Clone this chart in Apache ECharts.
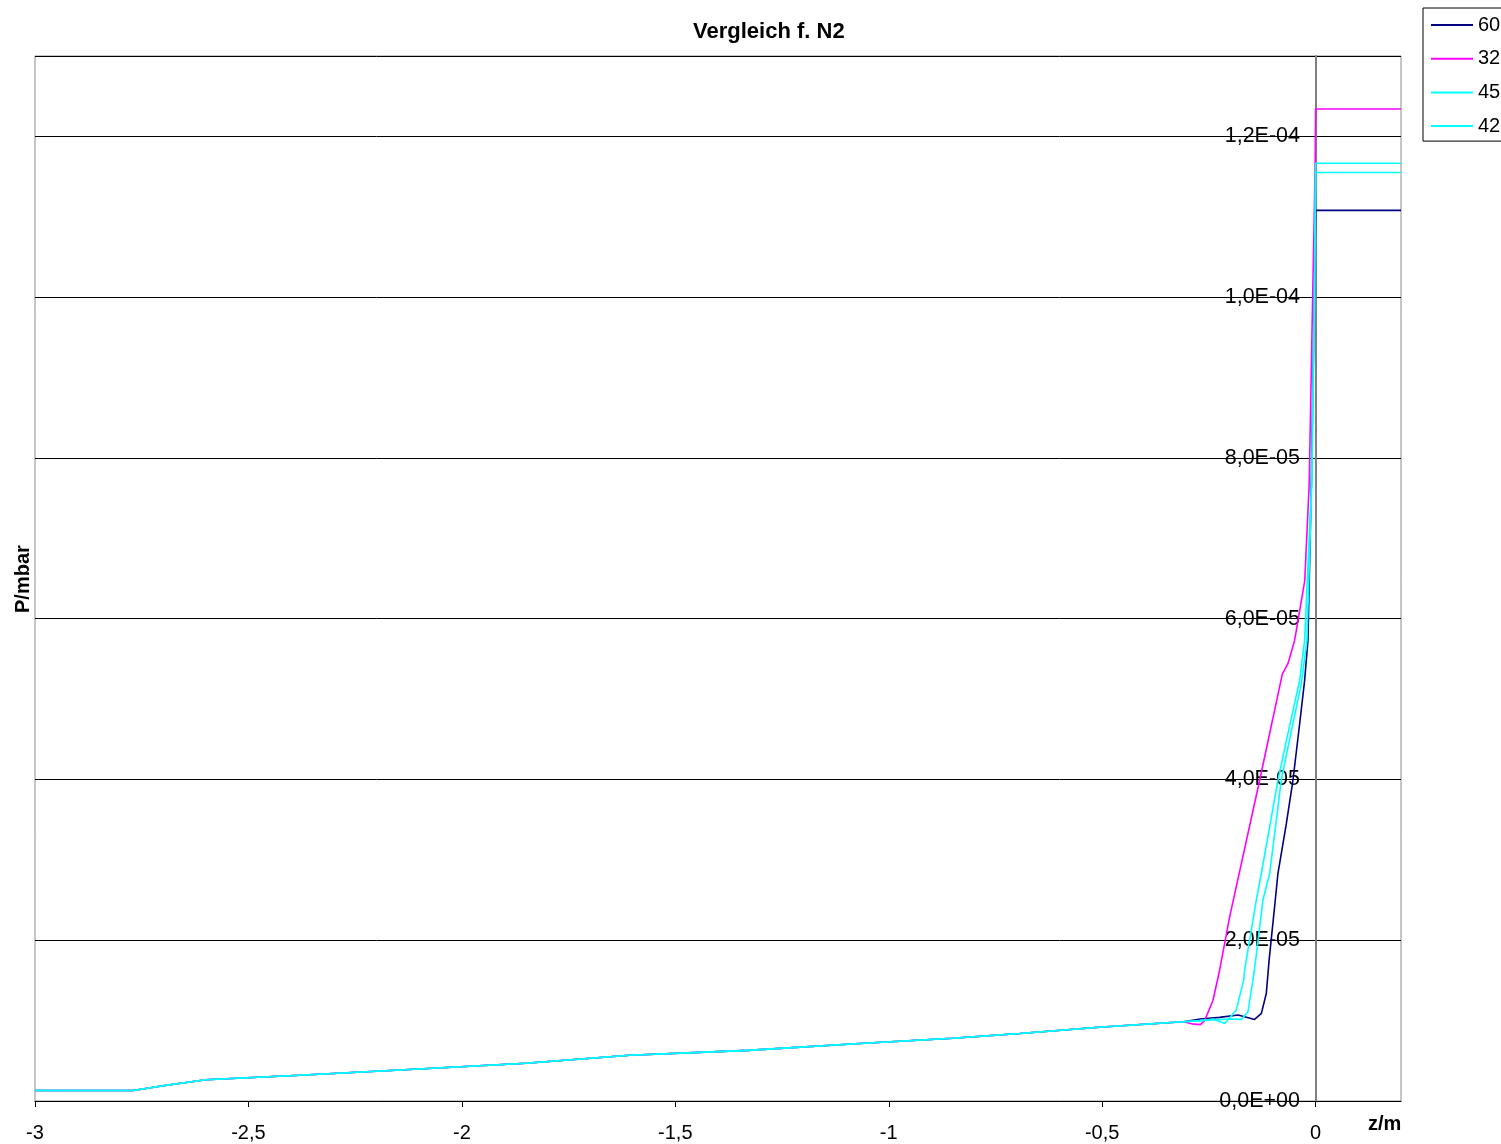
<!DOCTYPE html>
<html>
<head>
<meta charset="utf-8">
<title>Vergleich f. N2</title>
<script src="https://cdn.jsdelivr.net/npm/echarts@6/dist/echarts.min.js"></script>
<style>
  html, body { margin: 0; padding: 0; background: #fff; }
  #main { width: 1501px; height: 1144px; }
</style>
</head>
<body>
<div id="main"></div>
<script>
// shared low-pressure part (z in m, P in mbar)
var baseLine = [
  [-3.0, 1.3e-6], [-2.77, 1.3e-6], [-2.70, 1.9e-6], [-2.6, 2.65e-6],
  [-2.38, 3.2e-6], [-2.145, 3.85e-6], [-1.85, 4.7e-6], [-1.607, 5.7e-6],
  [-1.33, 6.3e-6], [-1.068, 7.15e-6], [-0.85, 7.8e-6], [-0.693, 8.4e-6],
  [-0.5, 9.2e-6], [-0.31, 9.85e-6]
];

var tail60 = [
  [-0.27, 1.02e-5], [-0.225, 1.04e-5], [-0.182, 1.07e-5], [-0.16, 1.04e-5],
  [-0.143, 1.015e-5], [-0.127, 1.09e-5], [-0.1155, 1.34e-5], [-0.109, 1.75e-5],
  [-0.0945, 2.5e-5], [-0.0883, 2.83e-5], [-0.0686, 3.45e-5], [-0.0531, 3.99e-5],
  [-0.0375, 4.69e-5], [-0.0258, 5.23e-5], [-0.018, 5.73e-5], [-0.01, 7.68e-5],
  [-0.003, 1.0e-4], [0, 1.108e-4], [0.2, 1.108e-4]
];

var tail32 = [
  [-0.29, 9.6e-6], [-0.27, 9.5e-6], [-0.26, 1.0e-5], [-0.2405, 1.25e-5],
  [-0.2248, 1.63e-5], [-0.2014, 2.29e-5], [-0.1311, 3.99e-5], [-0.078, 5.31e-5],
  [-0.0649, 5.44e-5], [-0.0492, 5.73e-5], [-0.0255, 6.47e-5], [-0.015, 7.68e-5],
  [-0.007, 1.0e-4], [-0.0028, 1.114e-4], [-0.001, 1.17e-4], [0, 1.234e-4],
  [0.2, 1.234e-4]
];

var tail45 = [
  [-0.27, 1.0e-5], [-0.24, 1.02e-5], [-0.213, 9.65e-6], [-0.186, 1.13e-5],
  [-0.1686, 1.5e-5], [-0.1663, 1.63e-5], [-0.139, 2.5e-5], [-0.1272, 2.83e-5],
  [-0.0883, 3.99e-5], [-0.0686, 4.48e-5], [-0.0375, 5.23e-5], [-0.0258, 5.73e-5],
  [-0.0094, 7.68e-5], [-0.0028, 1.0e-4], [0, 1.1665e-4], [0.2, 1.1665e-4]
];

var tail42 = [
  [-0.27, 1.0e-5], [-0.2, 1.02e-5], [-0.174, 1.015e-5], [-0.1586, 1.11e-5],
  [-0.1468, 1.5e-5], [-0.1405, 1.75e-5], [-0.1234, 2.5e-5], [-0.1077, 2.83e-5],
  [-0.0804, 3.99e-5], [-0.0649, 4.4e-5], [-0.0335, 5.19e-5], [-0.0203, 5.73e-5],
  [-0.009, 7.68e-5], [-0.0025, 1.0e-4], [0, 1.155e-4], [0.2, 1.155e-4]
];

var seriesNames = ['60', '32', '45', '42'];
var seriesColors = ['#000080', '#ff00ff', '#00ffff', '#00ffff'];
var seriesTails = [tail60, tail32, tail45, tail42];

var font = 'Liberation Sans, Arial, sans-serif';

function fmtY(v) {
  // 1.2e-4 -> "1,2E-04"
  var s = Number(v).toExponential(1).split('e');
  var exp = parseInt(s[1], 10);
  var sign = exp < 0 ? '-' : '+';
  var e = Math.abs(exp);
  return s[0].replace('.', ',') + 'E' + sign + (e < 10 ? '0' + e : e);
}

var chart = echarts.init(document.getElementById('main'));

var series = seriesNames.map(function (name, i) {
  return {
    name: name,
    type: 'line',
    data: baseLine.concat(seriesTails[i]),
    showSymbol: false,
    symbol: 'none',
    lineStyle: { color: seriesColors[i], width: 1.6 },
    itemStyle: { color: seriesColors[i] }
  };
});

chart.setOption({
  animation: false,
  backgroundColor: '#fff',
  title: {
    text: 'Vergleich f. N2',
    left: 688,
    top: 16,
    textStyle: { fontFamily: font, fontSize: 22, fontWeight: 'bold', color: '#000' }
  },
  legend: {
    orient: 'vertical',
    left: 1423,
    top: 8,
    padding: [6, 8, 4, 8],
    borderColor: '#000',
    borderWidth: 1,
    icon: 'rect',
    itemWidth: 42,
    itemHeight: 2,
    itemGap: 11.7,
    textStyle: { fontFamily: font, fontSize: 20, color: '#000', lineHeight: 22 },
    data: seriesNames
  },
  grid: {
    left: 35,
    right: 100,
    top: 56,
    bottom: 43,
    show: true,
    borderColor: '#8c8c8c',
    borderWidth: 1,
    outerBoundsMode: 'none'
  },
  xAxis: {
    type: 'value',
    min: -3,
    max: 0.2,
    interval: 0.5,
    axisLine: { onZero: false, lineStyle: { color: '#000', width: 1 } },
    axisTick: { show: true, length: 6, lineStyle: { color: '#000' } },
    splitLine: { show: false },
    axisLabel: {
      margin: 22,
      showMaxLabel: false,
      fontFamily: font,
      fontSize: 20,
      color: '#000',
      formatter: function (v) {
        if (Math.abs(v * 2 - Math.round(v * 2)) > 1e-9) return '';
        return String(v).replace('.', ',');
      }
    }
  },
  yAxis: {
    type: 'value',
    position: 'left',
    // move the axis from the grid's left edge to z = 0
    offset: -1281,
    min: 0,
    max: 1.3e-4,
    interval: 2e-5,
    axisLine: { onZero: false, lineStyle: { color: '#808080', width: 2 } },
    axisTick: { show: false },
    splitLine: { show: true, lineStyle: { color: '#000', width: 1 } },
    axisLabel: {
      margin: 16,
      showMaxLabel: false,
      fontFamily: font,
      fontSize: 21.5,
      color: '#000',
      formatter: fmtY
    }
  },
  graphic: [
    {
      type: 'text',
      left: 1368,
      top: 1114,
      style: { text: 'z/m', font: 'bold 20px ' + font, fill: '#000' }
    },
    {
      type: 'text',
      x: 13,
      y: 613,
      rotation: Math.PI / 2,
      style: { text: 'P/mbar', font: 'bold 20px ' + font, fill: '#000' }
    }
  ],
  series: series
});
</script>
</body>
</html>
